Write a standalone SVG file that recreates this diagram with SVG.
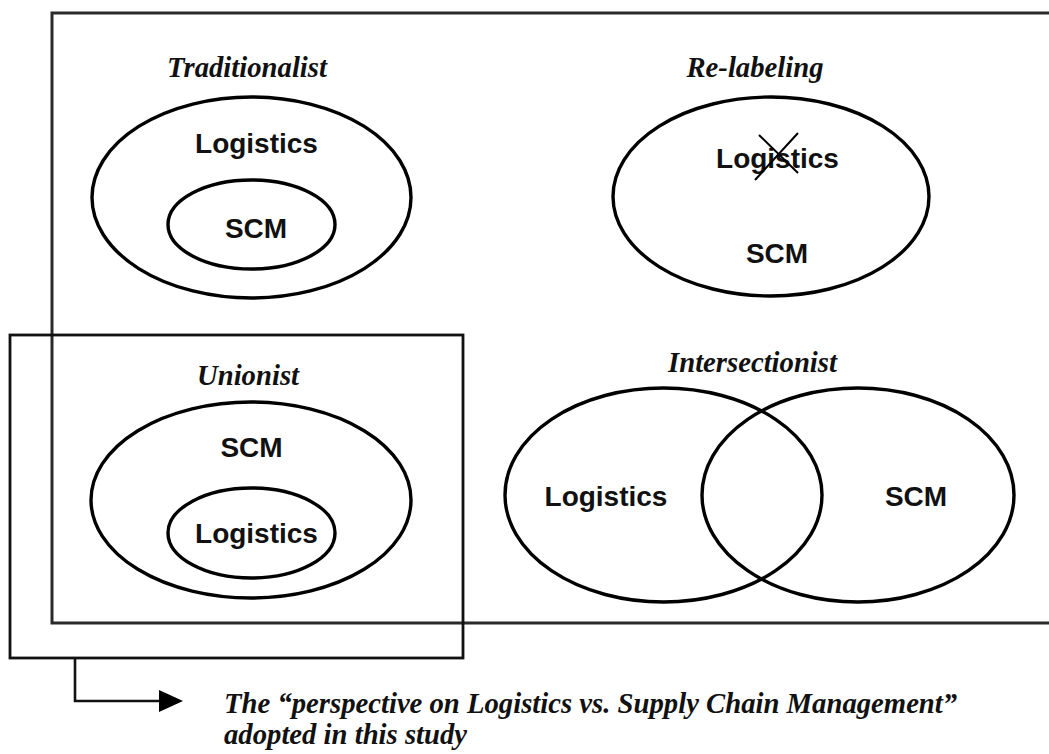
<svg xmlns="http://www.w3.org/2000/svg" width="1049" height="754" viewBox="0 0 1049 754">
<style>
.frame{fill:none;stroke:#2a2a2a;stroke-width:3}
.box{fill:none;stroke:#111;stroke-width:2.8}
.ell{fill:none;stroke:#000;stroke-width:3.4}
.title{font-family:"Liberation Serif","Times New Roman",serif;font-style:italic;font-weight:bold;font-size:28.7px;fill:#111;text-anchor:middle}
.lbl{font-family:"Liberation Sans",Arial,sans-serif;font-weight:bold;font-size:28px;fill:#111;text-anchor:middle}
.cap{font-family:"Liberation Serif","Times New Roman",serif;font-style:italic;font-weight:bold;font-size:28.7px;fill:#111}
.conn{fill:none;stroke:#111;stroke-width:2.6}
</style>
<defs>
<marker id="arrow" markerWidth="24" markerHeight="22" refX="2" refY="11" viewBox="0 0 24 22" markerUnits="userSpaceOnUse" orient="auto">
<path d="M0,0 L24,11 L0,22 Z" fill="#000"/>
</marker>
</defs>
<rect width="1049" height="754" fill="#fff"/>
<g id="outer-frame"><path class="frame" d="M1052,13 H52 V623 H1052"/></g>
<g id="adopted-box"><rect class="box" x="10" y="335" width="453" height="323"/></g>
<g id="traditionalist">
<text class="title" x="247" y="77">Traditionalist</text>
<ellipse class="ell" cx="251.5" cy="197.5" rx="159.5" ry="100.5"/>
<text class="lbl" x="256.5" y="153">Logistics</text>
<ellipse class="ell" cx="251.5" cy="224.5" rx="83.5" ry="44.5"/>
<text class="lbl" x="256" y="238">SCM</text>
</g>
<g id="relabeling">
<text class="title" x="755" y="77">Re-labeling</text>
<ellipse class="ell" cx="771" cy="196.5" rx="158" ry="99.5"/>
<text class="lbl" x="777.5" y="168">Logistics</text>
<path d="M759,135 L798,173 M798,133 L755,180" stroke="#000" stroke-width="2" fill="none"/>
<text class="lbl" x="777" y="263">SCM</text>
</g>
<g id="unionist">
<text class="title" x="248" y="385">Unionist</text>
<ellipse class="ell" cx="251" cy="500" rx="160" ry="98"/>
<text class="lbl" x="251.5" y="457">SCM</text>
<ellipse class="ell" cx="251.5" cy="533" rx="83.5" ry="45"/>
<text class="lbl" x="256.5" y="543">Logistics</text>
</g>
<g id="intersectionist">
<text class="title" x="752.5" y="372">Intersectionist</text>
<ellipse class="ell" cx="663.5" cy="495" rx="158.5" ry="107"/>
<ellipse class="ell" cx="858" cy="495" rx="156" ry="107"/>
<text class="lbl" x="606" y="506">Logistics</text>
<text class="lbl" x="916" y="506">SCM</text>
</g>
<g id="connectors">
<path class="conn" d="M75,658 V701 H161" marker-end="url(#arrow)"/>
</g>
<g id="caption">
<text class="cap" x="224" y="713">The “perspective on Logistics vs. Supply Chain Management”</text>
<text class="cap" x="224" y="744">adopted in this study</text>
</g>
</svg>
